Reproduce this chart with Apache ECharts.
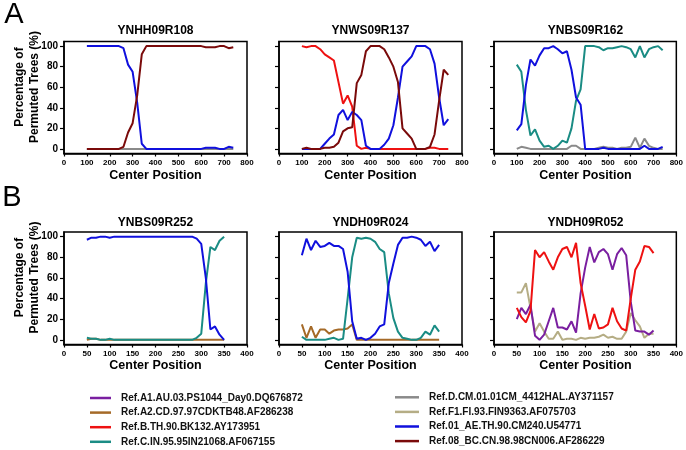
<!DOCTYPE html>
<html>
<head>
<meta charset="utf-8">
<script src="https://cdn.jsdelivr.net/npm/echarts@6/dist/echarts.min.js"></script>
<style>html,body{margin:0;padding:0;background:#fff}#c{width:686px;height:450px}</style>
</head>
<body>
<div id="c"></div>
<script>
// ---------- data ----------
const refNames = ['Ref.A1.AU.03.PS1044_Day0.DQ676872','Ref.A2.CD.97.97CDKTB48.AF286238','Ref.B.TH.90.BK132.AY173951','Ref.C.IN.95.95IN21068.AF067155','Ref.D.CM.01.01CM_4412HAL.AY371157','Ref.F1.FI.93.FIN9363.AF075703','Ref.01_AE.TH.90.CM240.U54771','Ref.08_BC.CN.98.98CN006.AF286229'];
const panelTitles = ['YNHH09R108','YNWS09R137','YNBS09R162','YNBS09R252','YNDH09R024','YNDH09R052'];
const yTicks = [0,20,40,60,80,100];

const xA = [100,120,140,160,180,200,220,240,260,280,300,320,340,360,380,400,420,440,460,480,500,520,540,560,580,600,620,640,660,680,700,720,740];
const xB = [50,60,70,80,90,100,110,120,130,140,150,160,170,180,190,200,210,220,230,240,250,260,270,280,290,300,310,320,330,340,350];

// Panel A1: YNHH09R108
const a1_AE = [100,100,100,100,100,100,100,100,98,82,75,45,5,0,0,0,0,0,0,0,0,0,0,0,0,0,1,1,1,0,0,2,1];
const a1_BC = [0,0,0,0,0,0,0,0,2,16,25,52,92,100,100,100,100,100,100,100,100,100,100,100,100,100,99,99,99,100,100,98,99];
const a1_D  = [0,0,0,0,0,0,0,0,0,0,0,0,0,0,0,0,0,0,0,0,0,0,0,0,0,0,0,0,0,0,0,0,0];
// Panel A2: YNWS09R137
const a2_B  = [100,99,100,100,97,92,89,86,65,44,52,41,3,0,1,0,0,0,0,0,0,0,0,0,0,0,0,0,1,1,0,0,0];
const a2_AE = [0,0,0,0,0,5,10,14,33,38,28,36,33,28,3,0,0,0,4,10,23,50,80,85,90,100,100,100,97,83,50,23,29];
const a2_BC = [0,1,0,0,0,1,1,2,6,17,20,21,64,72,95,100,100,100,97,89,80,65,20,15,10,0,0,0,2,14,47,77,72];
// Panel A3: YNBS09R162
const a3_C  = [82,75,38,13,19,8,2,3,0,3,8,6,20,47,58,100,100,100,99,96,98,98,99,100,99,97,89,100,89,97,99,100,96];
const a3_AE = [18,24,62,87,81,91,98,98,100,97,93,95,77,50,43,0,0,0,0,1,0,0,0,0,0,0,0,0,3,0,0,0,2];
const a3_D  = [0,2,1,0,0,0,0,0,0,0,0,0,3,3,0,0,0,0,1,2,1,1,0,1,1,2,11,1,10,3,1,0,0];
// Panel B1: YNBS09R252
const b1_AE = [97,99,99,100,100,99,100,100,100,100,100,100,100,100,100,100,100,100,100,100,100,100,100,100,98,93,60,10,13,5,0];
const b1_C  = [2,1,1,0,0,1,0,0,0,0,0,0,0,0,0,0,0,0,0,0,0,0,0,0,2,6,55,90,87,96,100];
const b1_A2 = [0,1,1,0,0,0,0,0,0,0,0,0,0,0,0,0,0,0,0,0,0,0,0,0,0,0,0,0,0,0,0];
// Panel B2: YNDH09R024
const b2_AE = [82,98,87,96,90,91,94,91,91,88,66,18,1,2,0,2,6,13,15,55,74,92,99,99,100,99,97,91,95,86,92];
const b2_C  = [3,0,0,0,0,0,1,2,0,1,40,80,99,98,99,98,95,88,85,45,21,8,2,1,0,0,2,8,5,14,8];
const b2_A2 = [15,2,13,2,10,10,6,9,10,10,11,15,0,0,0,0,0,0,0,0,0,0,0,0,0,0,0,0,0,0,0];
// Panel B3: YNDH09R052
const b3_B  = [31,22,17,28,87,80,85,76,68,80,88,90,80,94,55,33,10,25,11,12,15,31,18,11,9,40,68,76,91,90,84];
const b3_A1 = [20,31,25,34,4,0,5,18,31,12,12,10,18,7,45,70,90,75,85,88,83,68,83,89,82,37,9,8,8,5,9];
const b3_F1 = [46,46,55,31,8,16,8,1,1,8,0,1,1,0,2,1,2,2,3,5,2,3,1,1,8,26,19,13,2,6,6];

// ---------- styling ----------
const colors = {
  A1:'#7a1fa0', A2:'#a56a28', B:'#ee1111', C:'#1a8c84',
  D:'#8a8a8a', F1:'#b5ad85', AE:'#1010dd', BC:'#7a0a0a'
};
const nameOf = {A1:refNames[0],A2:refNames[1],B:refNames[2],C:refNames[3],D:refNames[4],F1:refNames[5],AE:refNames[6],BC:refNames[7]};
const FONT = 'Arial, "Liberation Sans", sans-serif';

const lefts = [64, 279, 494];
const W = 183;
const rows = [{top:41.5, height:112}, {top:232, height:112.5}];

const grids = [], xAxes = [], yAxes = [], series = [];
for (let r = 0; r < 2; r++) {
  for (let c = 0; c < 3; c++) {
    grids.push({left: lefts[c], top: rows[r].top, width: W, height: rows[r].height,
      show: true, borderColor: '#000', borderWidth: 1.5, containLabel: false});
    xAxes.push({type:'value', gridIndex: r*3+c, min:0, max: r===0?800:400, interval: r===0?100:50,
      axisLine:{show:true, onZero:false, lineStyle:{color:'#000', width:1.5}},
      axisTick:{show:true, length:3, lineStyle:{color:'#000', width:1.2}},
      axisLabel:{show:true, interval:0, fontSize:8, fontWeight:'bold', color:'#000', margin:5, fontFamily:FONT,
        showMinLabel:true, showMaxLabel:true},
      splitLine:{show:false}});
    yAxes.push({type:'value', gridIndex: r*3+c, min:-4.5, max:104.5,
      axisLine:{show:true, onZero:false, lineStyle:{color:'#000', width:1.5}},
      axisTick:{show:true, length:4, customValues: yTicks, lineStyle:{color:'#000', width:1.2}},
      axisLabel:{show: c===0, customValues: yTicks, fontSize:10, fontWeight:'bold', color:'#000', margin:6, fontFamily:FONT},
      splitLine:{show:false}});
  }
}

function addLine(panel, key, xs, ys) {
  series.push({type:'line', name: nameOf[key], xAxisIndex: panel, yAxisIndex: panel,
    data: xs.map((x,i)=>[x, ys[i]]), showSymbol:false, symbol:'none',
    lineStyle:{width:2, color: colors[key]}, itemStyle:{color: colors[key]},
    animation:false, silent:true});
}
addLine(0,'D',xA,a1_D); addLine(0,'AE',xA,a1_AE); addLine(0,'BC',xA,a1_BC);
addLine(1,'B',xA,a2_B); addLine(1,'AE',xA,a2_AE); addLine(1,'BC',xA,a2_BC);
addLine(2,'D',xA,a3_D); addLine(2,'C',xA,a3_C); addLine(2,'AE',xA,a3_AE);
addLine(3,'A2',xB,b1_A2); addLine(3,'C',xB,b1_C); addLine(3,'AE',xB,b1_AE);
addLine(4,'A2',xB,b2_A2); addLine(4,'C',xB,b2_C); addLine(4,'AE',xB,b2_AE);
addLine(5,'F1',xB,b3_F1); addLine(5,'A1',xB,b3_A1); addLine(5,'B',xB,b3_B);

// ---------- texts ----------
const elements = [];
function txt(x, y, text, size, weight, extra) {
  return Object.assign({type:'text', x, y, silent:true, style:{text, fontSize:size, fontWeight:weight, fontFamily:FONT,
    fill:'#000', align:'center', verticalAlign:'middle', textAlign:'center', textVerticalAlign:'middle'}}, extra||{});
}
const titleY = [31, 222.5], cpY = [176, 366], ynY = [87, 277.5];
for (let r = 0; r < 2; r++) {
  for (let c = 0; c < 3; c++) {
    const cx = lefts[c] + W/2;
    elements.push(txt(cx, titleY[r], panelTitles[r*3+c], 12, 'bold'));
    elements.push(txt(cx, cpY[r], 'Center Position', 12.5, 'bold'));
  }
  const yn = txt(27.5, ynY[r], 'Percentage of\nPermuted Trees (%)', 12, 'bold', {rotation: Math.PI/2});
  yn.style.lineHeight = 15;
  elements.push(yn);
}
elements.push(txt(14, 15, 'A', 29, 'normal'));
elements.push(txt(12, 198, 'B', 29, 'normal'));

const legendText = {fontSize:10, fontWeight:'bold', color:'#111', fontFamily:FONT, lineHeight:14.6, padding:[0,0,0,5]};
const option = {
  backgroundColor:'#fff',
  animation:false,
  grid: grids, xAxis: xAxes, yAxis: yAxes, series,
  legend: [
    {left:90, top:390.7, orient:'vertical', icon:'rect', itemWidth:21, itemHeight:2.5, itemGap:0, padding:0,
     selectedMode:false, textStyle: legendText, data: refNames.slice(0,4)},
    {left:395, top:390, orient:'vertical', icon:'rect', itemWidth:24, itemHeight:2.5, itemGap:0, padding:0,
     selectedMode:false, textStyle: legendText, data: refNames.slice(4,8)}
  ],
  graphic: {elements}
};
const chart = echarts.init(document.getElementById('c'), null, {renderer:'canvas', width:686, height:450});
chart.setOption(option);
</script>
</body>
</html>
